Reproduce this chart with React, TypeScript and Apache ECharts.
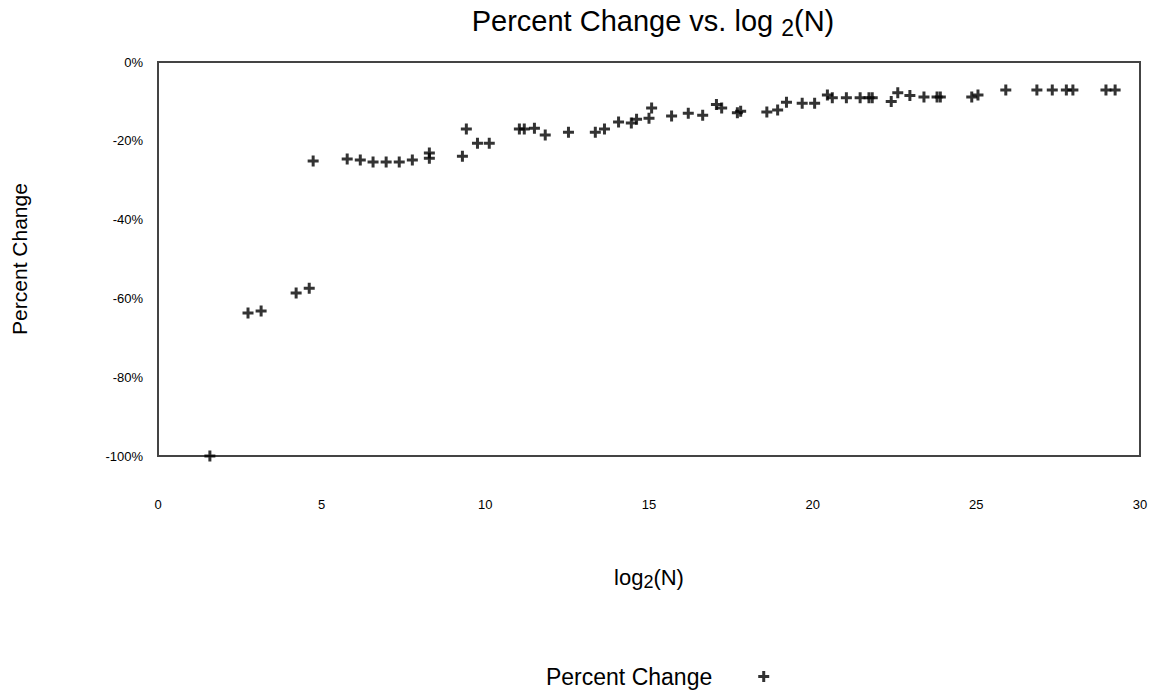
import React, { useEffect, useRef } from "react";
import * as echarts from "echarts";

const seriesName = "Percent Change";
const xValues = [
  1.585, 2.75, 3.15, 4.22, 4.62, 4.74, 5.78, 6.18, 6.57, 6.97, 7.37, 7.77, 8.29, 8.29,
  9.3, 9.42, 9.76, 10.12, 11.04, 11.19, 11.5, 11.83, 12.54, 13.36, 13.64, 14.07, 14.46,
  14.62, 15.0, 15.08, 15.69, 16.2, 16.64, 17.06, 17.22, 17.7, 17.8, 18.6, 18.93, 19.2,
  19.68, 20.06, 20.45, 20.6, 21.03, 21.45, 21.72, 21.82, 22.4, 22.6, 22.97, 23.4, 23.8,
  23.9, 24.86, 25.05, 25.9, 26.85, 27.32, 27.75, 27.95, 28.96, 29.24,
];
const yValues = [
  -100, -63.7, -63.2, -58.6, -57.4, -25.1, -24.6, -24.9, -25.4, -25.4, -25.4, -24.9, -24.4,
  -23.1, -23.9, -17.0, -20.6, -20.6, -17.0, -17.0, -16.8, -18.5, -17.8, -17.8, -17.0, -15.2,
  -15.5, -14.5, -14.3, -11.7, -13.7, -13.0, -13.5, -10.8, -11.7, -12.9, -12.5, -12.7, -12.2,
  -10.2, -10.5, -10.5, -8.4, -9.1, -9.1, -9.1, -9.1, -9.1, -10.0, -7.8, -8.5, -8.9, -8.9,
  -8.9, -8.9, -8.4, -7.1, -7.1, -7.1, -7.1, -7.1, -7.1, -7.1,
];
const xTicks = { min: 0, max: 30, interval: 5 };
const yTicks = { min: -100, max: 0, interval: 20 };

const PLUS = "path://M4,0H7V4H11V7H7V11H4V7H0V4H4Z";
const FONT = "Liberation Sans, Arial, sans-serif";

export default function App() {
  const ref = useRef<HTMLDivElement>(null);
  useEffect(() => {
    if (!ref.current) return;
    const chart = echarts.init(ref.current, null, { renderer: "svg" });
    const data = xValues.map((x, i) => [x, yValues[i]]);
    chart.setOption({
      animation: false,
      textStyle: { fontFamily: FONT },
      title: {
        text: "Percent Change vs. log {sub|2}(N)",
        left: 648,
        textAlign: "center",
        top: -3,
        textStyle: {
          fontFamily: FONT,
          fontWeight: "normal",
          fontSize: 29,
          color: "#000",
          rich: {
            sub: { fontFamily: FONT, fontSize: 23, color: "#000", padding: [14, 0, 0, 0] },
          },
        },
      },
      grid: {
        left: 158,
        right: 19,
        top: 62,
        bottom: 238,
        show: true,
        borderColor: "#444",
        borderWidth: 2,
        containLabel: false,
      },
      legend: {
        bottom: 1,
        left: 541,
        align: "right",
        itemWidth: 11,
        itemHeight: 11,
        data: [{ name: seriesName, icon: PLUS }],
        textStyle: { fontFamily: FONT, fontSize: 23, color: "#000", padding: [0, 41, 0, 0] },
      },
      xAxis: {
        type: "value",
        min: xTicks.min,
        max: xTicks.max,
        interval: xTicks.interval,
        name: "log{sub|2}(N)",
        nameLocation: "middle",
        nameGap: 107,
        nameTextStyle: {
          fontFamily: FONT,
          fontSize: 22,
          color: "#000",
          rich: { sub: { fontFamily: FONT, fontSize: 18, color: "#000", padding: [10, 0, 0, 0] } },
        },
        axisLine: { show: false },
        axisTick: { show: false },
        splitLine: { show: false },
        axisLabel: { margin: 42, fontSize: 13, color: "#000", fontFamily: FONT },
      },
      yAxis: {
        type: "value",
        min: yTicks.min,
        max: yTicks.max,
        interval: yTicks.interval,
        name: seriesName,
        nameLocation: "middle",
        nameGap: 128,
        nameRotate: 90,
        nameTextStyle: { fontFamily: FONT, fontSize: 21, color: "#000" },
        axisLine: { show: false },
        axisTick: { show: false },
        splitLine: { show: false },
        axisLabel: { margin: 15, fontSize: 13, color: "#000", fontFamily: FONT, formatter: "{value}%" },
      },
      series: [
        {
          name: seriesName,
          type: "scatter",
          symbol: PLUS,
          symbolSize: 11,
          itemStyle: { color: "#000" },
          data,
        },
      ],
    });
    return () => chart.dispose();
  }, []);
  return (
    <div
      ref={ref}
      style={{ position: "absolute", left: 0, top: 0, width: 1159, height: 694 }}
    />
  );
}
